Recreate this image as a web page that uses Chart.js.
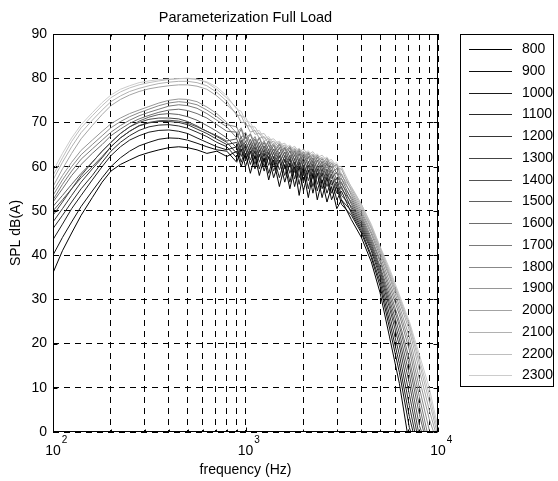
<!DOCTYPE html>
<html>
<head>
<meta charset="utf-8">
<script src="https://cdn.jsdelivr.net/npm/chart.js@4.4.1/dist/chart.umd.min.js"></script>
<style>
  html, body { margin: 0; padding: 0; background: #fff; }
  canvas { display: block; }
</style>
</head>
<body>
<canvas id="spl" width="558" height="481"></canvas>
<script>
// frequency points (Hz)
const freqHz = [100, 112, 125, 140, 160, 180, 200, 224, 250, 280, 315, 355, 400, 450, 500, 560, 630, 710, 800,
  900, 950, 1000, 1060, 1120, 1180, 1250, 1320, 1400, 1500, 1600, 1700, 1800, 1900, 2000, 2120, 2240, 2360, 2500, 2650, 2800, 2980, 3150,
  3550, 4000, 4500, 5000, 5600, 6300, 7100, 8000, 9000, 10000];

// SPL dB(A) per engine speed
const spl800 = [36, 41, 45, 49, 53, 56.5, 59, 60.5, 61.5, 62.5, 63.2, 63.8, 64.3, 64.5, 64.3, 63.8, 63, 63.5, 62.3,
  63.5, 60, 63, 58.5, 62.5, 58, 62, 57, 61.5, 55.5, 60.5, 55, 60, 53.5, 59, 53, 58.5, 52.5, 57, 52, 55.5, 50.5, 52.5,
  48, 44, 38.5, 31.5, 21.5, 11, -3, null, null, null];
const spl900 = [40, 44, 47.5, 51, 54.5, 57.5, 60, 62, 63.5, 64.7, 65.5, 66.2, 66.5, 66.4, 66, 65.3, 64.5, 63.8, 63.5,
  61, 64, 60, 63.5, 59.5, 62.8, 59, 62.3, 57.5, 61.5, 56.5, 60.8, 55.5, 60, 54.5, 59.2, 54, 58.5, 53, 57.5, 52.5, 55.5, 51.5,
  49, 45, 39.5, 33, 23.5, 13.5, 1, -6, null, null];
const spl1000 = [43.5, 47, 50.5, 53.5, 57, 60, 62.5, 64.5, 66, 67, 67.8, 68.2, 68.3, 68, 67.5, 66.5, 65.5, 64.5, 63.8,
  64.5, 61, 64, 60.5, 63.5, 59.5, 63, 58.5, 62.3, 57.5, 61.7, 56.5, 61, 56, 60.3, 55, 59.5, 54.5, 58.5, 54, 57, 52.5, 54.5,
  49.5, 45.5, 40, 34, 25, 15.5, 3.5, -6, null, null];
const spl1100 = [46, 49, 52, 55, 58, 61, 63.5, 65.5, 67, 68.2, 69, 69.4, 69.5, 69.2, 68.7, 67.8, 66.8, 65.5, 64.5,
  62, 65, 61.5, 64.3, 60.5, 63.8, 60, 63.2, 59, 62.5, 58, 61.8, 57.2, 61, 56.5, 60.3, 55.5, 59.5, 55, 58.5, 54, 56.5, 52.5,
  50, 46, 41, 35, 26.5, 17.5, 6, -5, null, null];
const spl1200 = [47.5, 50.5, 53.5, 56.5, 59.5, 62, 64.5, 66.5, 68, 69.2, 69.9, 70.2, 70.2, 70, 69.5, 68.5, 67.5, 66.2, 65,
  65.5, 62.3, 65, 61.5, 64.5, 61, 63.8, 60.3, 63.2, 59.3, 62.5, 58.5, 61.8, 57.5, 61.2, 56.8, 60.5, 56, 59.5, 55.5, 58.3, 54, 55.5,
  50.5, 46.5, 41.5, 35.8, 28, 19.5, 8.5, -3, null, null];
const spl1300 = [49, 52, 55, 58, 61, 63.5, 65.5, 67.5, 69, 70, 70.7, 71, 71, 70.8, 70.2, 69.2, 68, 66.8, 65.5,
  63, 66, 62.5, 65.3, 61.8, 64.7, 61, 64, 60.3, 63.3, 59.5, 62.5, 58.7, 61.8, 58, 61.2, 57.3, 60.3, 56.5, 59.5, 55.8, 57.5, 53.5,
  51, 47, 42, 36.5, 29, 21, 11, -1, null, null];
const spl1400 = [50, 52.5, 55, 57.5, 60, 62.3, 64.5, 66.5, 68, 69.3, 70, 70.4, 70.5, 70.3, 69.8, 69, 68, 67, 65.8,
  66.3, 63.5, 65.8, 63, 65.3, 62.3, 64.7, 61.7, 64, 61, 63.3, 60.2, 62.7, 59.5, 62, 58.8, 61.3, 58, 60.5, 57.2, 59.3, 55.5, 56.5,
  51.5, 47.5, 42.5, 37, 30, 22.5, 13, 1.5, -5, null];
const spl1500 = [51, 53.5, 56, 58.5, 61, 63.5, 65.5, 67.5, 69, 70.3, 71.2, 71.8, 72, 71.8, 71.3, 70.5, 69.3, 68, 66.5,
  64.3, 66.8, 63.8, 66.2, 63.2, 65.6, 62.5, 65, 61.8, 64.3, 61, 63.6, 60.3, 63, 59.7, 62.3, 59, 61.5, 58.2, 60.7, 57.3, 58.8, 55,
  52, 48, 43, 37.5, 31, 24, 15, 4, -5, null];
const spl1600 = [52, 55, 58, 60.5, 63, 65, 67, 68.5, 69.8, 70.8, 71.6, 72.3, 72.8, 73, 72.7, 72, 71, 69.5, 68,
  67.8, 65, 67, 64.2, 66.3, 63.5, 65.5, 62.8, 64.8, 62, 64.2, 61.3, 63.5, 60.7, 62.8, 60, 62, 59.2, 61.2, 58.5, 60, 57, 57.3,
  52.5, 48.5, 43.5, 38.5, 32, 25, 16.5, 6, -4, null];
const spl1700 = [52.5, 56, 59, 61.7, 64, 66, 67.8, 69.3, 70.5, 71.5, 72.3, 73, 73.7, 74, 73.8, 73.2, 72, 70.5, 69,
  66.5, 68.5, 65.5, 67.3, 64.5, 66.5, 63.7, 65.8, 63, 65, 62.2, 64.3, 61.5, 63.6, 60.8, 63, 60.2, 62.2, 59.4, 61.3, 58.5, 59.6, 56,
  53, 49, 44, 39, 33, 26.5, 18.5, 8, -2, null];
const spl1800 = [53.5, 57, 60, 62.7, 65, 67, 68.8, 70.2, 71.3, 72.2, 73, 73.8, 74.4, 74.7, 74.5, 74, 72.8, 71.3, 69.5,
  69, 66.5, 67.8, 65.3, 66.8, 64.5, 65.8, 63.8, 65.2, 63, 64.5, 62.3, 63.9, 61.7, 63.3, 61, 62.6, 60.3, 61.8, 59.6, 60.8, 58.3, 58.3,
  53.5, 49.5, 44.8, 39.8, 34, 27.5, 20, 10, 0.5, -4];
const spl1900 = [54.5, 58, 61, 63.7, 66, 68, 69.7, 71, 72, 72.8, 73.6, 74.4, 75, 75.3, 75.2, 74.7, 73.5, 72, 70,
  67.6, 68.8, 66.3, 67.5, 65.2, 66.6, 64.3, 65.9, 63.7, 65.2, 63, 64.6, 62.4, 64, 61.8, 63.3, 61.2, 62.6, 60.5, 61.9, 59.7, 60.5, 57.3,
  54, 50, 45.3, 40.5, 35, 28.5, 21.5, 12, 3, -3];
const spl2000 = [55.5, 59.5, 63, 66.3, 69.3, 71.8, 73.8, 75.2, 76.2, 77, 77.6, 78, 78.3, 78.5, 78.5, 78.2, 77.5, 76, 74,
  72, 70, 70, 67.8, 68.2, 66.4, 66.8, 65.2, 65.8, 64.2, 64.9, 63.3, 64.2, 62.6, 63.5, 62, 62.9, 61.3, 62.1, 60.6, 61.1, 59.5, 59.5,
  54.5, 50.5, 46, 41, 35.5, 29.5, 23, 14, 5, -2];
const spl2100 = [57, 61, 64.5, 67.7, 70.5, 72.8, 74.7, 76, 77, 77.7, 78.3, 78.8, 79.1, 79.3, 79.3, 79, 78.3, 76.8, 74.8,
  71.6, 71.6, 69.3, 69.2, 67.3, 67.6, 65.8, 66.4, 64.6, 65.5, 63.6, 64.6, 62.9, 63.9, 62.3, 63.3, 61.7, 62.6, 60.9, 61.9, 60, 60.5, 58,
  55, 51, 46.3, 41.5, 36, 30, 24, 15.5, 7, -1];
const spl2200 = [58, 62, 65.7, 68.8, 71.5, 73.8, 75.6, 76.9, 77.8, 78.5, 79, 79.4, 79.7, 79.9, 80, 79.8, 79, 77.5, 75.5,
  73.3, 71.3, 71.2, 69, 69, 67.3, 67.5, 66, 66.3, 64.9, 65.3, 64, 64.6, 63.3, 64, 62.7, 63.4, 62, 62.6, 61.3, 61.6, 60, 60,
  55.3, 51.5, 46.7, 41.8, 36.5, 30.5, 24.5, 16.5, 8.5, 0];
const spl2300 = [59, 63, 66.5, 69.5, 72.2, 74.5, 76.2, 77.5, 78.3, 79, 79.4, 79.7, 79.8, 79.9, 79.9, 79.7, 79.2, 78, 76,
  73, 72.5, 70.3, 70, 68, 68.2, 66.3, 66.8, 65.2, 65.8, 64.2, 64.9, 63.5, 64.2, 62.9, 63.6, 62.3, 62.9, 61.5, 62.2, 60.5, 60.9, 58.5,
  55.5, 51.5, 47, 42, 37, 31, 25, 17.5, 10, 1];

const rpmLabels = ['800', '900', '1000', '1100', '1200', '1300', '1400', '1500',
  '1600', '1700', '1800', '1900', '2000', '2100', '2200', '2300'];
const seriesValues = [spl800, spl900, spl1000, spl1100, spl1200, spl1300, spl1400, spl1500,
  spl1600, spl1700, spl1800, spl1900, spl2000, spl2100, spl2200, spl2300];

const yTickValues = [0, 10, 20, 30, 40, 50, 60, 70, 80, 90];
const xGridValues = [100, 200, 300, 400, 500, 600, 700, 800, 900,
  1000, 2000, 3000, 4000, 5000, 6000, 7000, 8000, 9000, 10000];
const xDecades = [100, 1000, 10000];
const xDecadeExp = ['2', '3', '4'];

const FONT = '"Liberation Sans", Arial, sans-serif';

function grayFor(i) {
  const g = Math.round(i * 204 / 15);
  return 'rgb(' + g + ',' + g + ',' + g + ')';
}

const datasets = seriesValues.map((vals, i) => ({
  label: rpmLabels[i],
  data: freqHz.map((f, k) => ({ x: f, y: vals[k] })),
  borderColor: grayFor(i),
  borderWidth: 1,
  pointRadius: 0,
  fill: false,
  tension: 0
}));

// box, inner ticks, labels and legend in the MATLAB look
const matlabFrame = {
  id: 'matlabFrame',
  afterDraw(chart) {
    const { ctx, chartArea: a, scales: { x, y } } = chart;
    const L = Math.round(a.left) + 0.5, R = Math.round(a.right) - 0.5;
    const T = Math.round(a.top) + 0.5, B = Math.round(a.bottom) - 0.5;
    const seg = (x1, y1, x2, y2) => { ctx.beginPath(); ctx.moveTo(x1, y1); ctx.lineTo(x2, y2); ctx.stroke(); };

    ctx.save();
    ctx.strokeStyle = '#000';
    ctx.lineWidth = 1;
    ctx.setLineDash([]);
    ctx.strokeRect(L, T, R - L, B - T);

    yTickValues.forEach(v => {
      const py = Math.round(y.getPixelForValue(v)) + 0.5;
      seg(L, py, L + 4, py);
      seg(R - 4, py, R, py);
    });
    xGridValues.forEach(v => {
      const px = Math.round(x.getPixelForValue(v)) + 0.5;
      const len = xDecades.includes(v) ? 4 : 2;
      seg(px, B, px, B - len);
      seg(px, T, px, T + len);
    });

    ctx.fillStyle = '#000';
    ctx.font = '14px ' + FONT;
    ctx.textAlign = 'right';
    ctx.textBaseline = 'middle';
    yTickValues.forEach(v => ctx.fillText(String(v), a.left - 6, y.getPixelForValue(v)));

    ctx.textBaseline = 'alphabetic';
    xDecades.forEach((v, i) => {
      const px = x.getPixelForValue(v);
      ctx.font = '14px ' + FONT;
      const wb = ctx.measureText('10').width;
      ctx.textAlign = 'left';
      ctx.fillText('10', px - wb / 2, a.bottom + 23);
      ctx.font = '10px ' + FONT;
      ctx.fillText(xDecadeExp[i], px + wb / 2 + 1, a.bottom + 11);
    });

    ctx.textAlign = 'center';
    const cx = (a.left + a.right) / 2;
    ctx.font = '14.5px ' + FONT;
    ctx.fillText('Parameterization Full Load', cx, a.top - 12);
    ctx.font = '14px ' + FONT;
    ctx.fillText('frequency (Hz)', cx, a.bottom + 42);
    ctx.save();
    ctx.translate(16, (a.top + a.bottom) / 2);
    ctx.rotate(-Math.PI / 2);
    ctx.textBaseline = 'middle';
    ctx.fillText('SPL dB(A)', 0, 0);
    ctx.restore();

    // legend
    const lx = 460.5, ly = 34.5, lw = 93, lh = 352, rowH = 21.75;
    ctx.fillStyle = '#fff';
    ctx.fillRect(lx, ly, lw, lh);
    ctx.strokeStyle = '#000';
    ctx.strokeRect(lx, ly, lw, lh);
    ctx.font = '14px ' + FONT;
    ctx.textAlign = 'left';
    ctx.textBaseline = 'middle';
    chart.data.datasets.forEach((ds, i) => {
      const ry = Math.round(49 + i * rowH) + 0.5;
      ctx.strokeStyle = ds.borderColor;
      seg(469, ry, 512, ry);
      ctx.fillStyle = '#000';
      ctx.fillText(ds.label, 522, ry);
    });
    ctx.restore();
  }
};

new Chart(document.getElementById('spl'), {
  type: 'line',
  data: { datasets },
  plugins: [matlabFrame],
  options: {
    responsive: false,
    animation: false,
    devicePixelRatio: 1,
    events: [],
    layout: { padding: { left: 53, right: 120, top: 34, bottom: 49 } },
    plugins: { legend: { display: false }, tooltip: { enabled: false } },
    scales: {
      x: {
        type: 'logarithmic',
        min: 100,
        max: 10000,
        afterBuildTicks: s => { s.ticks = xGridValues.map(v => ({ value: v })); },
        afterFit: s => { s.height = 0; },
        ticks: { display: false },
        grid: { color: '#000', lineWidth: 1, drawTicks: false },
        border: { display: false, dash: [6, 5] }
      },
      y: {
        min: 0,
        max: 90,
        ticks: { display: false, stepSize: 10 },
        afterFit: s => { s.width = 0; },
        grid: { color: '#000', lineWidth: 1, drawTicks: false },
        border: { display: false, dash: [6, 5] }
      }
    }
  }
});
</script>
</body>
</html>
